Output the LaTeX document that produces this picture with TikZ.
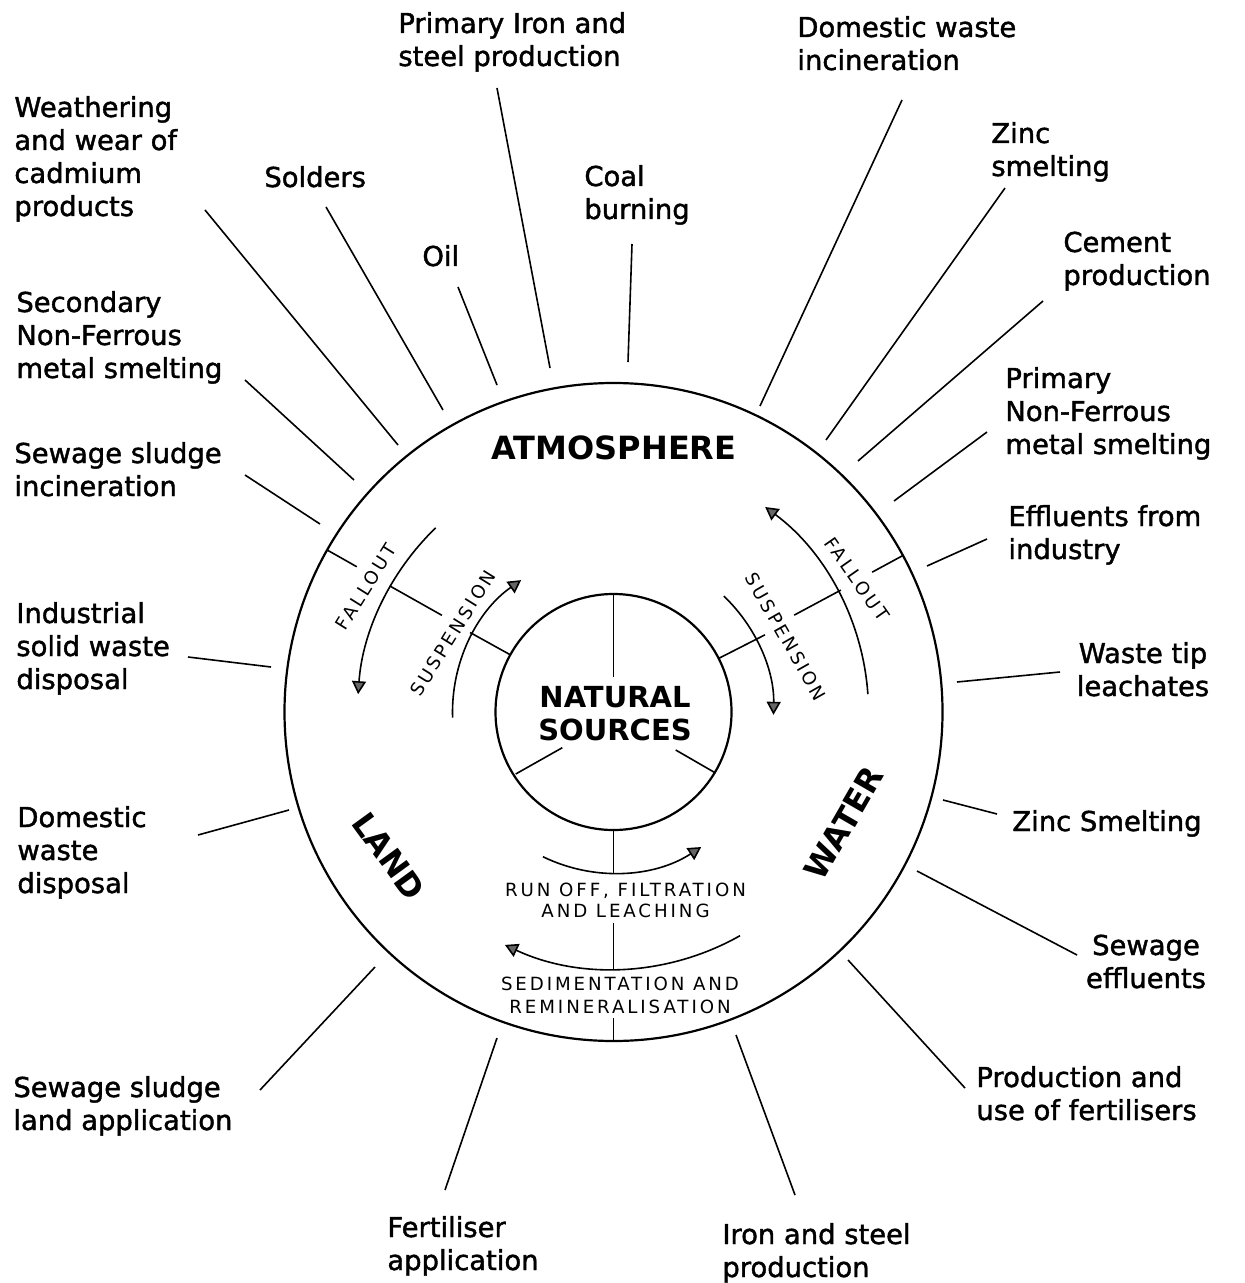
\documentclass[tikz,border=0pt]{standalone}
\usepackage{fontspec}
\setmainfont{DejaVu Sans}
\newfontfamily\insfont{DejaVu Sans}[LetterSpace=16]
\newfontfamily\srcfont{DejaVu Sans}[FakeBold=1.5]
\usetikzlibrary{arrows.meta}
\newcommand\lablft[1]{\vtop{\halign{##\hfil\cr#1\crcr}}}
\newcommand\labctr[1]{\vtop{\halign{\hfil##\hfil\cr#1\crcr}}}
\begin{document}
\begin{tikzpicture}[x=0.5pt,y=-0.5pt,
  src/.style={font=\srcfont\fontsize{13.7pt}{16.5pt}\selectfont, inner sep=0pt, anchor=base west},
  srcc/.style={src, anchor=base},
  lead/.style={line width=0.8pt},
  ring/.style={line width=1.1pt},
  tick/.style={line width=0.8pt},
  flow/.style={line width=0.8pt, -{Triangle[length=6.5pt,width=7pt,fill=black!60]}},
  zone/.style={font=\fontsize{16pt}{19pt}\selectfont\bfseries, inner sep=0pt},
  proc/.style={font=\insfont\fontsize{9.1pt}{11pt}\selectfont, inner sep=0pt},
]
\fill[white] (0,0) rectangle (1245,1283);
\useasboundingbox (0,0) rectangle (1245,1283);

% --- rings ---
\coordinate (O) at (613.5,712);
\draw[ring] (O) circle[radius=329];
\node[circle, draw, ring, minimum size=118pt, inner sep=0pt] (nat) at (O) {};
\node[font=\fontsize{14.5pt}{16.5pt}\selectfont\bfseries, inner sep=0pt, anchor=base] (natlab) at (615,707.7) {\labctr{NATURAL\cr SOURCES}};

% spokes of the natural sources circle
\draw[tick,shift={(O)}] (-90:118) -- (-90:35);
\coordinate (spa) at (515.7,774); \coordinate (spb) at (562.3,747.7);
\coordinate (spc) at (715,772.7); \coordinate (spd) at (675.7,750);
\draw[tick] (spa) -- (spb);
\draw[tick] (spc) -- (spd);

% dividing ticks
\draw[tick,shift={(O)}] (-151:118) -- (-151:164);
\draw[tick,shift={(O)}] (-150.6:257) -- (-150.6:197);
\draw[tick,shift={(O)}] (-150.5:329) -- (-150.5:295);
\draw[tick,shift={(O)}] (-27:118) -- (-27:170);
\draw[tick,shift={(O)}] (-28.2:258) -- (-28.2:205);
\draw[tick,shift={(O)}] (-28.4:329) -- (-28.4:294);
\draw[tick,shift={(O)}] (-270:118) -- (-270:161);
\draw[tick,shift={(O)}] (-270:257) -- (-270:211);
\draw[tick,shift={(O)}] (-270:329) -- (-270:306);

% flow arcs
\draw[flow,shift={(O)}] (-134:256) arc[start angle=-134, end angle=-176, radius=256];
\draw[flow,shift={(O)}] (-182:161) arc[start angle=-182, end angle=-125, radius=161];
\draw[flow,shift={(O)}] (-4:255) arc[start angle=-4, end angle=-53.5, radius=255];
\draw[flow,shift={(O)}] (-46.4:160) arc[start angle=-46.4, end angle=1, radius=160];
\draw[flow,shift={(O)}] (-244:161) arc[start angle=-244, end angle=-303, radius=161];
\draw[flow,shift={(O)}] (-299.5:257) arc[start angle=-299.5, end angle=-245, radius=257];

% compartment names
\node[zone, anchor=base] (atm) at (614,459) {ATMOSPHERE};
\node[zone, rotate=-54] (land) at (389,856) {LAND};
\node[zone, rotate=60] (water) at (844,823) {WATER};

% process labels
\node[proc, rotate=58] (fl) at (366,587) {FALLOUT};
\node[proc, rotate=58.2] (sl) at (453,633) {SUSPENSION};
\node[proc, rotate=-55] (fr) at (857,579) {FALLOUT};
\node[proc, rotate=-60.4] (sr) at (786,637) {SUSPENSION};
\node[proc, font=\insfont\fontsize{9.1pt}{10.7pt}\selectfont, anchor=base] (run) at (625.5,896) {\labctr{RUN OFF, FILTRATION\cr AND LEACHING}};
\node[proc, font=\insfont\fontsize{9.1pt}{11.5pt}\selectfont, anchor=base] (sed) at (620,990) {\labctr{SEDIMENTATION AND\cr REMINERALISATION}};

% sources
\node[src] (s1) at (398,33) {\lablft{Primary Iron and\cr steel production}};
\node[src] (s2) at (797,37) {\lablft{Domestic waste\cr incineration}};
\node[src] (s3) at (991,143) {\lablft{Zinc\cr smelting}};
\node[src] (s4) at (1063,252) {\lablft{Cement\cr production}};
\node[src] (s5) at (1005,388) {\lablft{Primary\cr Non-Ferrous\cr metal smelting}};
\node[src] (s6) at (1008,526) {\lablft{Effluents from\cr industry}};
\node[srcc] (s7) at (1143,663) {\labctr{Waste tip\cr leachates}};
\node[src] (s8) at (1012,831) {\lablft{Zinc Smelting}};
\node[srcc] (s9) at (1146,955) {\labctr{Sewage\cr effluents}};
\node[src] (s10) at (976,1087) {\lablft{Production and\cr use of fertilisers}};
\node[src] (s11) at (722,1244) {\lablft{Iron and steel\cr production}};
\node[src] (s12) at (387,1237) {\lablft{Fertiliser\cr application}};
\node[src] (s13) at (13,1097) {\lablft{Sewage sludge\cr land application}};
\node[src] (s14) at (17,827) {\lablft{Domestic\cr waste\cr disposal}};
\node[src] (s15) at (16,623) {\lablft{Industrial\cr solid waste\cr disposal}};
\node[src] (s16) at (14,463) {\lablft{Sewage sludge\cr incineration}};
\node[src] (s17) at (16,312) {\lablft{Secondary\cr Non-Ferrous\cr metal smelting}};
\node[src] (s18) at (14,117) {\lablft{Weathering\cr and wear of\cr cadmium\cr products}};
\node[src] (s19) at (264,187) {Solders};
\node[src] (s20) at (422,266) {Oil};
\node[src] (s21) at (584,186) {\lablft{Coal\cr burning}};

% leader lines
\foreach \a/\b/\c/\d [count=\i] in {
  497/88/550/368, 902/100/760/406, 1005/188/826/440, 1043/301/858/461,
  987/432/894/501, 987/539/927/566, 1060/672/957/682, 997/814/943/800,
  1077/955/917/871, 965/1088/848/960, 795/1195/736/1035, 445/1190/497/1038,
  260/1090/375/967, 198/835/289/810, 188/657/271/667, 245/475/320/524,
  245/380/354/480, 205/210/398/445, 326/207/443/410, 458/287/497/385,
  632/244/628/362}{
  \coordinate (p\i) at (\a,\b);
  \coordinate (q\i) at (\c,\d);
  \draw[lead] (p\i) -- (q\i);
}
\end{tikzpicture}
\end{document}
